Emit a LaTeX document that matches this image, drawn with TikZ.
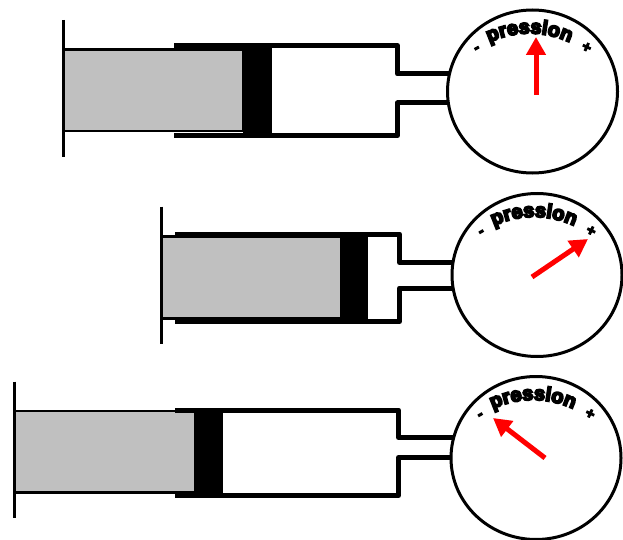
\documentclass[tikz,border=0pt]{standalone}
\usepackage{fontspec}
\usetikzlibrary{arrows.meta,decorations.text}
\definecolor{plungergray}{HTML}{C0C0C0}
\definecolor{needlered}{HTML}{FF0000}
% heavy faces for the dial lettering
\font\dialraw="Liberation Sans/B:embolden=9" at 20pt
\font\signraw="Liberation Sans/B:embolden=8" at 15pt
\tikzset{
  barrel/.style={line width=5pt, line join=round, line cap=butt},
  handle/.style={line width=3pt},
  plunger/.style={fill=plungergray, draw=black, line width=2.5pt},
  stopper/.style={fill=black},
  gauge/.style={line width=3pt, fill=white},
  needle/.style={needlered, line width=5pt, -{Triangle[width=19pt,length=18pt]}},
  sign/.style={inner sep=0pt, font=\signraw},
  dial/.pic={
    \draw[gauge] (0,0) ellipse [x radius=85, y radius=81.5];
    \path[decorate, decoration={text along path, text align=center,
        text={|\dialraw|pression}}]
      (-3,37) ++(-122:95) arc[start angle=-122, end angle=-58, radius=95];
    \node[sign, rotate=30] (-minus) at (-55,-42) {-};
    \node[sign, rotate=-25] (-plus) at (54,-44) {+};
  }
}
\begin{document}
\begin{tikzpicture}[x=1pt, y=-1pt]
\useasboundingbox (0,0) rectangle (623,540);

% first syringe: plunger pulled halfway, needle upright
\draw[handle] (63.3,20) -- (63.3,156.7);
\draw[plunger] (63.3,49.3) rectangle (243.3,131);
\fill[stopper] (243.3,45.5) rectangle (271.7,135.5);
\draw[barrel] (174,45.5) -- (397.5,45.5) -- (397.5,74) -- (470,74);
\draw[barrel] (470,103) -- (397.5,103) -- (397.5,135.5) -- (174,135.5);
\pic (g1) at (532.5,91.5) {dial};
\draw[needle] (536,95) -- (536,37);

% second syringe: plunger pushed in, high pressure
\draw[handle] (161.3,206.7) -- (161.3,344.3);
\draw[plunger] (161.3,236.5) rectangle (341.7,318.7);
\fill[stopper] (341.7,234) rectangle (368.3,321.5);
\draw[barrel] (175,234) -- (399.5,234) -- (399.5,262.5) -- (470,262.5);
\draw[barrel] (470,288) -- (399.5,288) -- (399.5,321.5) -- (175,321.5);
\pic (g2) at (537,275) {dial};
\draw[needle] (532,277) -- (588,239);

% third syringe: plunger pulled out, low pressure
\draw[handle] (14.3,381.7) -- (14.3,518.3);
\draw[plunger] (14.3,411) rectangle (195,492.5);
\fill[stopper] (195,410) rectangle (222.7,495.5);
\draw[barrel] (175,410) -- (398.5,410) -- (398.5,437.5) -- (470,437.5);
\draw[barrel] (470,457.5) -- (398.5,457.5) -- (398.5,495.5) -- (175,495.5);
\pic (g3) at (536,458) {dial};
\draw[needle] (545,458) -- (493,418);
\end{tikzpicture}
\end{document}
